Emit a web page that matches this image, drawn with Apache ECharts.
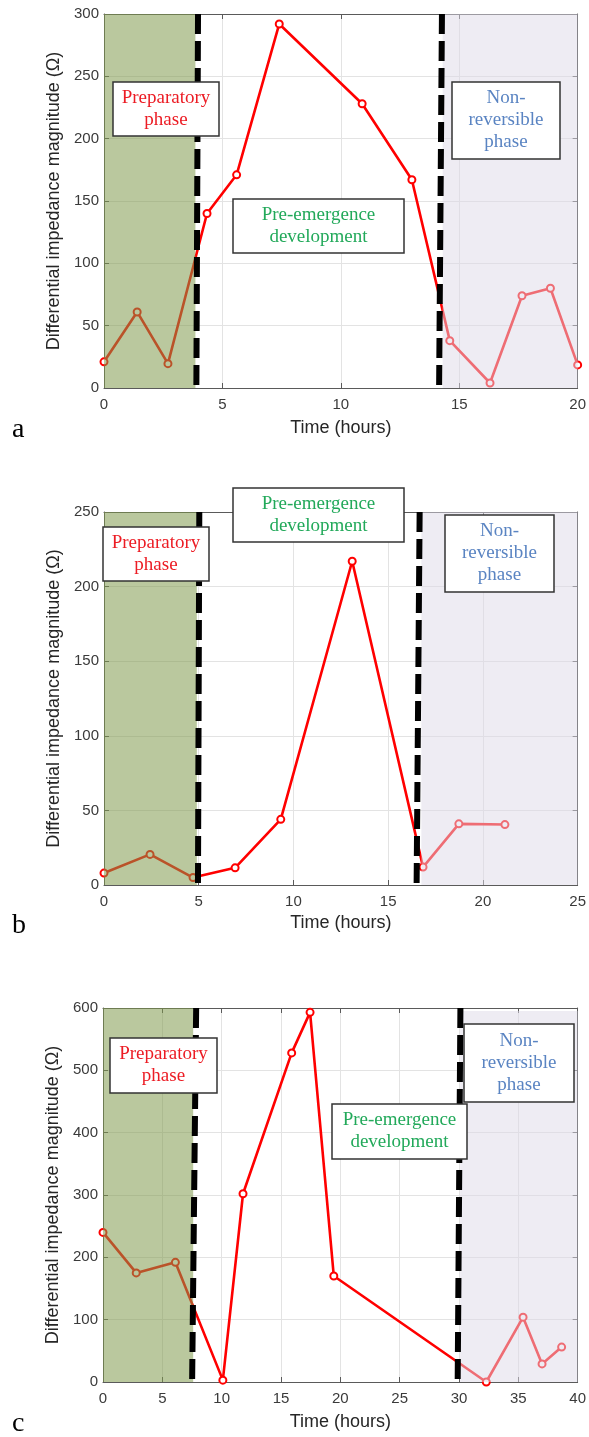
<!DOCTYPE html>
<html><head><meta charset="utf-8">
<script src="https://cdn.jsdelivr.net/npm/echarts@6/dist/echarts.min.js"></script>
<style>html,body{margin:0;padding:0;background:#fff}#c{width:589px;height:1437px}</style>
</head><body><div id="c"></div>
<script>
// ---- data ----
const aTime = [0, 1.4, 2.7, 4.35, 5.6, 7.4, 10.9, 13.0, 14.6, 16.3, 17.65, 18.85, 20];
const aImp  = [21, 61, 19.5, 140, 171, 292, 228, 167, 38, 4, 74, 80, 18.5];
const bTime = [0, 2.43, 4.7, 6.92, 9.33, 13.1, 16.84, 18.73, 21.16];
const bImp  = [8, 20.5, 5, 11.5, 44, 217, 12, 41, 40.5];
const cTime = [0, 2.8, 6.1, 10.1, 11.8, 15.9, 17.45, 19.45, 32.3, 35.4, 37.0, 38.65];
const cImp  = [240, 175, 192, 3, 302, 528, 593, 170, 0, 104, 29, 56];

// phase boundaries (hours): [top x, bottom x] of the slanted dashed lines
const aBounds = [[3.97, 3.90], [14.27, 14.15]];
const bBounds = [[5.03, 4.96], [16.66, 16.5]];
const cBounds = [[7.85, 7.51], [30.12, 29.89]];
// shaded phase spans
const aPrep = [0, 3.86], aNonRev = [14.3, 20];
const bPrep = [0, 4.9],  bNonRev = [16.75, 25];
const cPrep = [0, 7.6],  cNonRev = [30.1, 40];

const xMax = [20, 25, 40];
const yMax = [300, 250, 600];
const yStep = [50, 50, 100];
const panelLetters = ['a', 'b', 'c'];
const yTitle = 'Differential impedance magnitude (\u03A9)';
const xTitle = 'Time (hours)';
const phaseText = {prep: 'Preparatory\nphase', pre: 'Pre-emergence\ndevelopment', non: 'Non-\nreversible\nphase'};

// ---- layout ----
const grids = [
  {left: 104, top: 14, width: 474, height: 374},
  {left: 104, top: 512, width: 474, height: 373},
  {left: 103, top: 1008, width: 476, height: 374}
];
const xNameGap = [31, 29, 31];
const yNameGap = 31;

const tickColor = '#3a3a3a';
const frameColor = '#5a5a5a';
const sans = 'Liberation Sans, Arial, sans-serif';
const serif = 'Liberation Serif, Times New Roman, serif';

const xAxes = [], yAxes = [], series = [];
const tickStyle = {show: true, inside: true, length: 5, lineStyle: {color: frameColor, width: 1}};
const lineStyleFrame = {show: true, onZero: false, lineStyle: {color: frameColor, width: 1}};
grids.forEach((g, i) => {
  xAxes.push({
    type: 'value', gridIndex: i, position: 'bottom', min: 0, max: xMax[i], interval: 5,
    name: xTitle, nameLocation: 'middle', nameGap: xNameGap[i],
    nameTextStyle: {fontFamily: sans, fontSize: 18, color: '#262626'},
    axisLine: lineStyleFrame, axisTick: tickStyle,
    axisLabel: {fontFamily: sans, fontSize: 15, color: tickColor, margin: 9},
    splitLine: {show: true, lineStyle: {color: '#e3e3e3', width: 1}}
  });
  xAxes.push({
    type: 'value', gridIndex: i, position: 'top', min: 0, max: xMax[i], interval: 5,
    axisLine: lineStyleFrame, axisTick: tickStyle,
    axisLabel: {show: false}, splitLine: {show: false}
  });
  yAxes.push({
    type: 'value', gridIndex: i, position: 'left', min: 0, max: yMax[i], interval: yStep[i],
    name: yTitle, nameLocation: 'middle', nameGap: yNameGap, nameRotate: 90,
    nameTextStyle: {fontFamily: sans, fontSize: 18, color: '#262626'},
    axisLine: lineStyleFrame, axisTick: tickStyle,
    axisLabel: {fontFamily: sans, fontSize: 15, color: tickColor, margin: 5},
    splitLine: {show: true, lineStyle: {color: '#e3e3e3', width: 1}}
  });
  yAxes.push({
    type: 'value', gridIndex: i, position: 'right', min: 0, max: yMax[i], interval: yStep[i],
    axisLine: lineStyleFrame, axisTick: tickStyle,
    axisLabel: {show: false}, splitLine: {show: false}
  });
});

const panels = [
  {t: aTime, v: aImp, bounds: aBounds, prep: aPrep, non: aNonRev},
  {t: bTime, v: bImp, bounds: bBounds, prep: bPrep, non: bNonRev},
  {t: cTime, v: cImp, bounds: cBounds, prep: cPrep, non: cNonRev}
];
panels.forEach((p, i) => {
  const ym = yMax[i];
  const nonTop = i === 2 ? 595 : ym;
  series.push({
    type: 'line', xAxisIndex: 2 * i, yAxisIndex: 2 * i, z: 2,
    data: p.t.map((x, k) => [x, p.v[k]]),
    symbol: 'emptyCircle', symbolSize: 7, showAllSymbol: true,
    lineStyle: {color: '#ff0000', width: 2.6},
    itemStyle: {color: '#ff0000', borderColor: '#ff0000', borderWidth: 2},
    silent: true, clip: false,
    markArea: {
      z: 3, silent: true,
      data: [
        [{xAxis: p.prep[0], yAxis: ym, itemStyle: {color: 'rgba(128,153,75,0.54)'}}, {xAxis: p.prep[1], yAxis: 0}],
        [{xAxis: p.non[0], yAxis: nonTop, itemStyle: {color: 'rgba(222,218,232,0.5)'}}, {xAxis: p.non[1], yAxis: 0}]
      ]
    },
    markLine: {
      z: 4, silent: true, symbol: ['none', 'none'], label: {show: false},
      lineStyle: {color: '#000', width: 6, type: [20, 7], opacity: 1},
      emphasis: {disabled: true},
      data: p.bounds.map(b => [{coord: [b[0], ym]}, {coord: [b[1], 0]}])
    }
  });
});

// ---- annotation boxes ----
const boxes = [
  {x: 113, y: 82, w: 106, h: 54, text: phaseText.prep, color: '#ec1c24'},
  {x: 233, y: 199, w: 171, h: 54, text: phaseText.pre, color: '#22a95a'},
  {x: 452, y: 82, w: 108, h: 77, text: phaseText.non, color: '#5a84c2'},
  {x: 103, y: 527, w: 106, h: 54, text: phaseText.prep, color: '#ec1c24'},
  {x: 233, y: 488, w: 171, h: 54, text: phaseText.pre, color: '#22a95a'},
  {x: 445, y: 515, w: 109, h: 77, text: phaseText.non, color: '#5a84c2'},
  {x: 110, y: 1038, w: 107, h: 55, text: phaseText.prep, color: '#ec1c24'},
  {x: 332, y: 1104, w: 135, h: 55, text: phaseText.pre, color: '#22a95a'},
  {x: 464, y: 1024, w: 110, h: 78, text: phaseText.non, color: '#5a84c2'}
];
const graphic = [];
boxes.forEach(b => {
  graphic.push({type: 'rect', z: 100, silent: true, shape: {x: b.x, y: b.y, width: b.w, height: b.h},
    style: {fill: '#fff', stroke: '#333', lineWidth: 1.5}});
  graphic.push({type: 'text', z: 101, silent: true, x: b.x + b.w / 2, y: b.y + b.h / 2,
    style: {text: b.text, fill: b.color, font: '19px ' + serif, align: 'center', verticalAlign: 'middle', lineHeight: 22}});
});
const letterY = [430, 926, 1424];
panelLetters.forEach((l, i) => {
  graphic.push({type: 'text', z: 101, silent: true, x: 12, y: letterY[i],
    style: {text: l, fill: '#000', font: '28px ' + serif, align: 'left', verticalAlign: 'middle'}});
});

const chart = echarts.init(document.getElementById('c'), null, {renderer: 'canvas'});
chart.setOption({
  animation: false,
  backgroundColor: '#fff',
  grid: grids.map(g => Object.assign({show: false, containLabel: false}, g)),
  xAxis: xAxes,
  yAxis: yAxes,
  series: series,
  graphic: graphic
});
</script></body></html>
